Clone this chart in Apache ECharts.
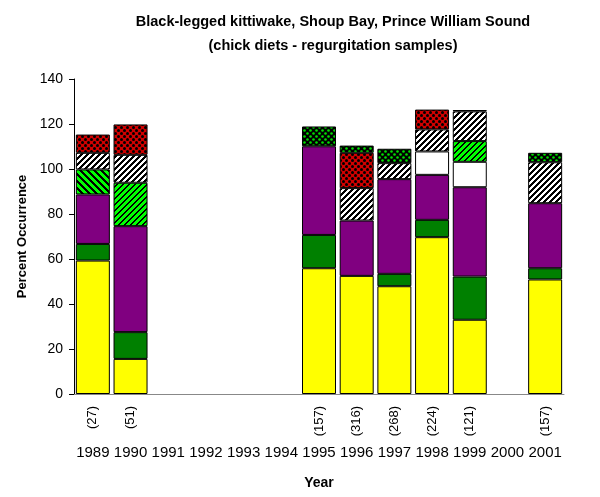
<!DOCTYPE html>
<html>
<head>
<meta charset="utf-8">
<script src="https://cdn.jsdelivr.net/npm/echarts@6/dist/echarts.min.js"></script>
<style>html,body{margin:0;padding:0;background:#fff}#c{width:600px;height:497px}</style>
</head>
<body>
<div id="c"></div>
<script>
// ---- data ----
var years = ['1989','1990','1991','1992','1993','1994','1995','1996','1997','1998','1999','2000','2001'];
var sampleSizes = ['(27)','(51)','','','','','(157)','(316)','(268)','(224)','(121)','','(157)'];
var yTicks = [0, 20, 40, 60, 80, 100, 120, 140];
var yellowVals      = [59.3, 15.6, null, null, null, null, 55.9, 52.5, 47.9, 69.7, 33.0, null, 50.9];
var greenVals       = [7.4, 11.9, null, null, null, null, 14.8, null, 5.5, 7.7, 19.2, null, 5.0];
var purpleVals      = [22.0, 47.1, null, null, null, null, 39.4, 24.6, 42.1, 20.0, 39.7, null, 28.9];
var whiteVals       = [null, null, null, null, null, null, null, null, null, 10.4, 11.3, null, null];
var greenDownVals   = [11.1, null, null, null, null, null, null, null, null, null, null, null, null];
var greenUpVals     = [null, 19.3, null, null, null, null, null, null, null, null, 9.2, null, null];
var whiteHatchVals  = [7.4, 12.4, null, null, null, null, null, 14.4, 7.1, 9.8, 13.2, null, 18.2];
var redDotVals      = [8.1, 13.5, null, null, null, null, null, 15.7, null, 8.8, null, null, null];
var greenDotVals    = [null, null, null, null, null, null, 8.8, 3.2, 6.4, null, 0.6, null, 4.2];

// ---- patterns ----
function stripes(bg, fg, period, width, dir) {
  var c = document.createElement('canvas');
  c.width = period; c.height = period;
  var ctx = c.getContext('2d');
  ctx.fillStyle = bg; ctx.fillRect(0, 0, period, period);
  ctx.fillStyle = fg;
  for (var x = 0; x < period; x++) for (var y = 0; y < period; y++) {
    var v = dir === 'up' ? (x + y) : (x - y + period * 4);
    if (v % period < width) ctx.fillRect(x, y, 1, 1);
  }
  return {image: c, repeat: 'repeat'};
}
function dots(bg, fg, r) {
  var c = document.createElement('canvas');
  c.width = 6; c.height = 6;
  var ctx = c.getContext('2d');
  ctx.fillStyle = bg; ctx.fillRect(0, 0, 6, 6);
  ctx.fillStyle = fg;
  [[1.5,1.5],[4.5,4.5],[-1.5,4.5],[4.5,-1.5],[7.5,1.5],[1.5,7.5]].forEach(function(p){
    ctx.beginPath(); ctx.arc(p[0], p[1], r, 0, Math.PI*2); ctx.fill();
  });
  return {image: c, repeat: 'repeat'};
}

var chart = echarts.init(document.getElementById('c'));
var layers = [
  {name: 'yellow', data: yellowVals, color: '#FFFF00'},
  {name: 'green', data: greenVals, color: '#008000'},
  {name: 'purple', data: purpleVals, color: '#800080'},
  {name: 'white', data: whiteVals, color: '#FFFFFF'},
  {name: 'greenDown', data: greenDownVals, color: stripes('#00FF00', '#000000', 7, 3, 'down')},
  {name: 'greenUp', data: greenUpVals, color: stripes('#00FF00', '#000000', 6, 2, 'up')},
  {name: 'whiteHatch', data: whiteHatchVals, color: stripes('#FFFFFF', '#000000', 6, 3, 'up')},
  {name: 'redDot', data: redDotVals, color: dots('#D00000', '#000000', 1.5)},
  {name: 'greenDot', data: greenDotVals, color: dots('#000000', '#00E000', 1.3)}
];

chart.setOption({
  animation: false,
  backgroundColor: '#fff',
  title: {
    text: 'Black-legged kittiwake, Shoup Bay, Prince William Sound\n(chick diets - regurgitation samples)',
    left: 328, top: 5, textAlign: 'center',
    textStyle: {fontFamily: 'Liberation Sans, Arial', fontSize: 14.5, fontWeight: 'bold', color: '#000', lineHeight: 24}
  },
  grid: {left: 74, right: 36, top: 79, bottom: 103, containLabel: false},
  xAxis: [{
    type: 'category', data: years, position: 'bottom',
    name: 'Year', nameLocation: 'middle', nameGap: 82,
    nameTextStyle: {fontFamily: 'Liberation Sans, Arial', fontSize: 14, fontWeight: 'bold', color: '#000'},
    axisLine: {lineStyle: {color: '#888', width: 1}},
    axisTick: {show: false},
    axisLabel: {fontFamily: 'Liberation Sans, Arial', fontSize: 15, color: '#000', margin: 51, interval: 0}
  }, {
    type: 'category', data: sampleSizes, position: 'bottom',
    axisLine: {show: false}, axisTick: {show: false},
    axisLabel: {fontFamily: 'Liberation Sans, Arial', fontSize: 13, color: '#000', rotate: 90, margin: 12, interval: 0}
  }],
  yAxis: {
    type: 'value', min: yTicks[0], max: yTicks[yTicks.length - 1], interval: 20,
    name: 'Percent Occurrence', nameLocation: 'middle', nameGap: 44,
    nameTextStyle: {fontFamily: 'Liberation Sans, Arial', fontSize: 13, fontWeight: 'bold', color: '#000'},
    axisLine: {show: true, lineStyle: {color: '#000', width: 1}},
    axisTick: {show: true, length: 5, lineStyle: {color: '#000'}},
    splitLine: {show: false},
    axisLabel: {fontFamily: 'Liberation Sans, Arial', fontSize: 14, color: '#000', margin: 11}
  },
  series: layers.map(function (l) {
    return {
      type: 'bar', name: l.name, stack: 'total', data: l.data, xAxisIndex: 0,
      barWidth: 34,
      itemStyle: {color: l.color, borderColor: '#000', borderWidth: 1}
    };
  })
});
</script>
</body>
</html>
